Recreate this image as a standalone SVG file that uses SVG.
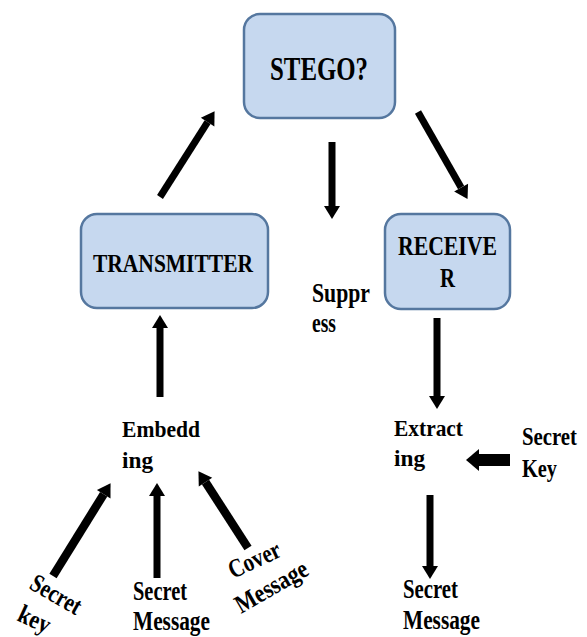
<svg xmlns="http://www.w3.org/2000/svg" width="587" height="637" viewBox="0 0 587 637">
<style>
.box{fill:#c6d8ef;stroke:#55779f;stroke-width:2.5}
.t{font-family:"Liberation Serif","Times New Roman","DejaVu Serif",serif;font-weight:bold;fill:#000}
.c{stroke:#000;stroke-width:7;fill:none}
.cw{stroke:#000;stroke-width:8.5;fill:none}
.ct{stroke:#000;stroke-width:12;fill:none}
</style>
<defs>
<marker id="ah" markerUnits="userSpaceOnUse" markerWidth="13" markerHeight="16" refX="0" refY="8" orient="auto" overflow="visible">
<path d="M0,0 L13,8 L0,16 z" fill="#000"/>
</marker>
<marker id="ahb" markerUnits="userSpaceOnUse" markerWidth="13" markerHeight="22" refX="0" refY="11" orient="auto" overflow="visible">
<path d="M0,0 L13,11 L0,22 z" fill="#000"/>
</marker>
</defs>
<rect width="587" height="637" fill="#fff"/>
<g id="stego">
<rect class="box" x="244" y="14" width="151" height="104" rx="16"/>
<text class="t" x="270" y="80" font-size="33" textLength="98" lengthAdjust="spacingAndGlyphs">STEGO?</text>
</g>
<g id="transmitter">
<rect class="box" x="81" y="214" width="187" height="94" rx="16"/>
<text class="t" x="93" y="272" font-size="25" textLength="160" lengthAdjust="spacingAndGlyphs">TRANSMITTER</text>
</g>
<g id="receiver">
<rect class="box" x="385" y="214" width="125" height="95" rx="16"/>
<text class="t" x="398" y="255" font-size="27" textLength="99" lengthAdjust="spacingAndGlyphs">RECEIVE</text>
<text class="t" x="440" y="287" font-size="27" textLength="15" lengthAdjust="spacingAndGlyphs">R</text>
</g>
<g id="suppress">
<text class="t" x="312" y="302" font-size="28" textLength="58" lengthAdjust="spacingAndGlyphs">Suppr</text>
<text class="t" x="312" y="332" font-size="28" textLength="24" lengthAdjust="spacingAndGlyphs">ess</text>
</g>
<g id="embedding">
<text class="t" x="122" y="437" font-size="24" textLength="78" lengthAdjust="spacingAndGlyphs">Embedd</text>
<text class="t" x="122" y="468" font-size="24" textLength="31" lengthAdjust="spacingAndGlyphs">ing</text>
</g>
<g id="extracting">
<text class="t" x="394" y="436" font-size="24" textLength="69" lengthAdjust="spacingAndGlyphs">Extract</text>
<text class="t" x="394" y="466" font-size="24" textLength="31" lengthAdjust="spacingAndGlyphs">ing</text>
</g>
<g id="secret-key-right">
<text class="t" x="522" y="445" font-size="26" textLength="55" lengthAdjust="spacingAndGlyphs">Secret</text>
<text class="t" x="522" y="477" font-size="26" textLength="35" lengthAdjust="spacingAndGlyphs">Key</text>
</g>
<g id="secret-message-out">
<text class="t" x="403" y="598" font-size="27" textLength="55" lengthAdjust="spacingAndGlyphs">Secret</text>
<text class="t" x="403" y="629" font-size="27" textLength="77" lengthAdjust="spacingAndGlyphs">Message</text>
</g>
<g id="secret-message-in">
<text class="t" x="133" y="600" font-size="27" textLength="54" lengthAdjust="spacingAndGlyphs">Secret</text>
<text class="t" x="133" y="630" font-size="27" textLength="77" lengthAdjust="spacingAndGlyphs">Message</text>
</g>
<g id="secret-key-left">
<text class="t" font-size="26" textLength="55" lengthAdjust="spacingAndGlyphs" transform="translate(28,588) rotate(30)">Secret</text>
<text class="t" font-size="26" textLength="33" lengthAdjust="spacingAndGlyphs" transform="translate(16,620) rotate(25)">key</text>
</g>
<g id="cover-message">
<text class="t" font-size="26" textLength="55" lengthAdjust="spacingAndGlyphs" transform="translate(233,579) rotate(-25)">Cover</text>
<text class="t" font-size="26" textLength="80" lengthAdjust="spacingAndGlyphs" transform="translate(241,614) rotate(-30)">Message</text>
</g>
<g id="connectors">
<line class="c" x1="160" y1="197" x2="207.6" y2="122.1" marker-end="url(#ah)"/>
<line class="c" x1="332" y1="142" x2="332" y2="206" marker-end="url(#ah)"/>
<line class="c" x1="418" y1="112" x2="461.1" y2="187.6" marker-end="url(#ah)"/>
<line class="c" x1="160" y1="397" x2="160" y2="328" marker-end="url(#ah)"/>
<line class="c" x1="437" y1="318" x2="437" y2="396" marker-end="url(#ah)"/>
<line class="cw" x1="53" y1="576" x2="103.7" y2="494.2" marker-end="url(#ah)"/>
<line class="c" x1="157" y1="578" x2="157" y2="496" marker-end="url(#ah)"/>
<line class="cw" x1="248" y1="548" x2="205.5" y2="482.1" marker-end="url(#ah)"/>
<line class="ct" x1="510" y1="460" x2="479" y2="460" marker-end="url(#ahb)"/>
<line class="c" x1="430" y1="495" x2="430" y2="566" marker-end="url(#ah)"/>
</g>
</svg>
